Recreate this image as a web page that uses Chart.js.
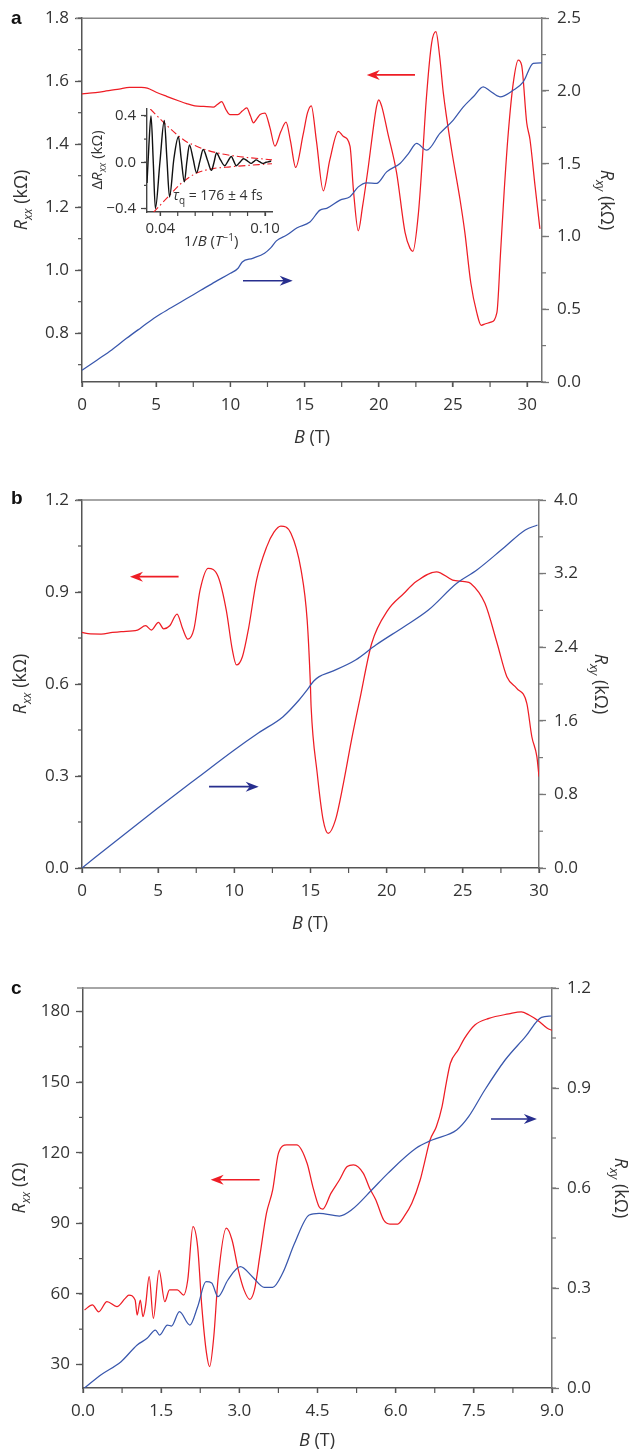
<!DOCTYPE html>
<html>
<head>
<meta charset="utf-8">
<script src="https://cdn.jsdelivr.net/npm/chart.js@4.4.1/dist/chart.umd.min.js"></script>
<style>
  html, body { margin: 0; padding: 0; background: #fff; }
  #wrap { position: relative; width: 633px; height: 1451px; }
  canvas { position: absolute; left: 0; }
</style>
</head>
<body>
<div id="wrap">
  <canvas id="ca" width="633" height="460" style="top:0px"></canvas>
  <canvas id="cins" width="210" height="155" style="left:80px;top:95px"></canvas>
  <canvas id="cb" width="633" height="490" style="top:460px"></canvas>
  <canvas id="cc" width="633" height="501" style="top:950px"></canvas>
</div>
<script>
// ---- panel a ----
const aRxxB = [0, 0.5, 1.5, 2.5, 3.2, 4.0, 4.4, 5.0, 5.7, 6.5, 7.05, 7.6, 8.2, 8.85, 9.1, 9.41, 9.7, 9.97, 10.5, 10.8, 11.1, 11.35, 11.55, 11.8, 12.0, 12.33, 12.67, 13.0, 13.4, 13.75, 14.05, 14.4, 14.9, 15.2, 15.45, 15.8, 16.26, 16.7, 17.27, 17.6, 18.06, 18.3, 18.62, 18.9, 19.3, 19.6, 19.85, 20.0, 20.2, 20.6, 21.2, 21.77, 22.1, 22.3, 22.67, 22.95, 23.2, 23.56, 23.85, 24.1, 24.35, 24.9, 25.47, 25.8, 26.2, 26.6, 26.9, 27.2, 27.55, 27.96, 28.2, 28.45, 28.73, 29.06, 29.4, 29.63, 29.97, 30.19, 30.53, 30.86];
const aRxx = [1.56, 1.562, 1.568, 1.575, 1.58, 1.58, 1.578, 1.565, 1.552, 1.538, 1.529, 1.522, 1.52, 1.518, 1.525, 1.535, 1.51, 1.494, 1.494, 1.505, 1.515, 1.49, 1.468, 1.482, 1.494, 1.499, 1.452, 1.394, 1.44, 1.47, 1.41, 1.326, 1.43, 1.5, 1.522, 1.41, 1.252, 1.35, 1.441, 1.425, 1.394, 1.25, 1.125, 1.2, 1.33, 1.44, 1.52, 1.541, 1.52, 1.437, 1.31, 1.12, 1.07, 1.06, 1.18, 1.36, 1.541, 1.72, 1.757, 1.68, 1.563, 1.384, 1.226, 1.12, 0.96, 0.866, 0.825, 0.83, 0.835, 0.865, 1.05, 1.25, 1.437, 1.593, 1.667, 1.65, 1.468, 1.415, 1.268, 1.131];
const aRxyB = [0, 1, 2, 3, 4, 5, 6, 7, 8, 9, 10, 10.5, 10.8, 11.5, 12.3, 12.7, 13.1, 13.8, 14.5, 15.36, 16.04, 16.49, 17.39, 18.06, 18.62, 19.18, 19.86, 20.53, 21.43, 22.0, 22.55, 23.23, 24.12, 25.02, 25.7, 26.37, 27.04, 27.5, 28.17, 29.06, 29.74, 30.41, 30.98];
const aRxy = [0.08, 0.15, 0.22, 0.3, 0.375, 0.449, 0.51, 0.57, 0.63, 0.69, 0.747, 0.78, 0.825, 0.85, 0.885, 0.92, 0.97, 1.01, 1.06, 1.10, 1.181, 1.193, 1.25, 1.273, 1.341, 1.369, 1.365, 1.444, 1.502, 1.57, 1.639, 1.593, 1.708, 1.8, 1.891, 1.96, 2.028, 2.0, 1.96, 2.005, 2.063, 2.189, 2.193];
const aXTicks = [0, 5, 10, 15, 20, 25, 30];
const aLeftTicks = [0.8, 1.0, 1.2, 1.4, 1.6, 1.8];
const aRightTicks = [0, 0.5, 1.0, 1.5, 2.0, 2.5];

// ---- inset of panel a ----
const insX = [0.0324, 0.0335, 0.0347, 0.036, 0.0372, 0.0398, 0.0423, 0.0438, 0.0453, 0.0478, 0.0504, 0.052, 0.0538, 0.0552, 0.0567, 0.0588, 0.0608, 0.0627, 0.0646, 0.067, 0.0693, 0.0708, 0.0722, 0.0745, 0.0769, 0.0788, 0.0807, 0.0821, 0.0835, 0.0856, 0.0877, 0.09, 0.0921, 0.0935, 0.0949, 0.0968, 0.0987, 0.1006, 0.1025, 0.1035];
const insY = [-0.18, 0.15, 0.40, 0.0, -0.40, 0.0, 0.36, 0.03, -0.30, 0.03, 0.22, 0.03, -0.17, 0.0, 0.15, 0.03, -0.09, 0.01, 0.11, 0.02, -0.07, 0.0, 0.08, 0.02, -0.03, 0.01, 0.05, 0.01, -0.03, 0.0, 0.03, 0.01, -0.01, 0.005, 0.02, 0.005, -0.01, 0.0, 0.006, 0.01];
const envUpX = [0.0343, 0.0438, 0.0552, 0.059, 0.0665, 0.08, 0.1045];
const envUp = [0.46, 0.317, 0.175, 0.15, 0.105, 0.06, 0.02];
const envLoX = [0.036, 0.0466, 0.0514, 0.0608, 0.0703, 0.08, 0.1045];
const envLo = [-0.435, -0.265, -0.19, -0.094, -0.055, -0.04, -0.012];
const insXTicks = [0.04, 0.10];
const insYTicks = [-0.4, 0.0, 0.4];

// ---- panel b ----
const bRxxB = [0, 0.4, 1.25, 2.0, 2.57, 3.64, 4.17, 4.56, 5.02, 5.36, 5.76, 6.24, 6.61, 6.95, 7.35, 7.75, 8.28, 8.94, 9.47, 9.87, 10.14, 10.53, 10.93, 11.46, 12.13, 12.6, 13.05, 13.72, 14.38, 14.78, 14.99, 15.04, 15.44, 15.83, 16.16, 16.64, 17.16, 17.69, 18.23, 19.02, 20.08, 21.14, 21.94, 23.27, 24.33, 25.12, 25.52, 26.45, 27.25, 27.89, 28.54, 29.2, 29.53, 29.86, 30];
const bRxx = [0.768, 0.764, 0.763, 0.768, 0.771, 0.776, 0.79, 0.776, 0.801, 0.78, 0.79, 0.828, 0.78, 0.746, 0.78, 0.906, 0.977, 0.95, 0.841, 0.711, 0.662, 0.689, 0.78, 0.939, 1.048, 1.095, 1.115, 1.091, 0.972, 0.809, 0.602, 0.526, 0.309, 0.157, 0.113, 0.157, 0.276, 0.417, 0.548, 0.733, 0.841, 0.896, 0.934, 0.966, 0.939, 0.934, 0.928, 0.863, 0.733, 0.624, 0.586, 0.537, 0.428, 0.363, 0.298];
const bRxyB = [0, 2.5, 4.96, 7.5, 10, 11.6, 13.2, 14.25, 14.78, 15.2, 15.57, 16.37, 17.96, 19.29, 21.14, 22.74, 24.6, 25.92, 27.77, 29.1, 29.9];
const bRxy = [0, 0.33, 0.649, 0.97, 1.283, 1.47, 1.645, 1.826, 1.935, 2.03, 2.08, 2.134, 2.261, 2.424, 2.623, 2.804, 3.095, 3.239, 3.492, 3.674, 3.728];
const bXTicks = [0, 5, 10, 15, 20, 25, 30];
const bLeftTicks = [0.0, 0.3, 0.6, 0.9, 1.2];
const bRightTicks = [0.0, 0.8, 1.6, 2.4, 3.2, 4.0];

// ---- panel c ----
const cRxxB = [0.03, 0.18, 0.3, 0.46, 0.65, 0.81, 0.88, 1.0, 1.04, 1.1, 1.15, 1.2, 1.27, 1.35, 1.46, 1.57, 1.66, 1.81, 1.93, 2.01, 2.11, 2.2, 2.28, 2.37, 2.43, 2.51, 2.59, 2.75, 2.86, 2.98, 3.09, 3.2, 3.29, 3.4, 3.52, 3.64, 3.75, 3.91, 4.1, 4.3, 4.41, 4.53, 4.6, 4.76, 4.92, 5.07, 5.19, 5.38, 5.5, 5.62, 5.77, 5.89, 6.04, 6.16, 6.31, 6.47, 6.55, 6.66, 6.78, 6.89, 6.97, 7.05, 7.2, 7.32, 7.52, 7.79, 8.17, 8.41, 8.56, 8.76, 8.91, 9.0];
const cRxx = [53.2, 55.3, 52.4, 56.7, 54.6, 58.1, 59.5, 57.4, 51, 57.4, 50.3, 55, 67.3, 49.6, 70, 56.7, 61.7, 61.7, 59.5, 65.9, 88.6, 80, 54.6, 34.8, 29.1, 41.9, 65.9, 87.9, 82.9, 70.2, 61.7, 57.7, 61.7, 77.1, 94.2, 104.2, 119.7, 123.3, 123.3, 115.5, 105.6, 97, 96, 102.8, 108.4, 114.1, 114.8, 111.2, 104.9, 99.9, 91.4, 89.7, 89.7, 92.8, 98.5, 108.4, 115.5, 125.4, 131, 139.6, 149.5, 158, 163.7, 168.6, 174.3, 177.1, 179, 179.9, 178.5, 175.7, 172.9, 172];
const cRxyB = [0.03, 0.34, 0.73, 1.04, 1.23, 1.39, 1.47, 1.62, 1.7, 1.85, 2.05, 2.2, 2.36, 2.47, 2.59, 2.78, 3.02, 3.25, 3.48, 3.64, 3.83, 4.06, 4.34, 4.53, 4.92, 5.15, 5.54, 5.85, 6.39, 6.7, 7.17, 7.4, 7.71, 8.1, 8.49, 8.8, 8.99];
const cRxy = [0, 0.039, 0.079, 0.129, 0.149, 0.174, 0.159, 0.189, 0.186, 0.229, 0.189, 0.244, 0.319, 0.315, 0.274, 0.324, 0.364, 0.334, 0.302, 0.302, 0.344, 0.434, 0.519, 0.524, 0.516, 0.534, 0.594, 0.644, 0.719, 0.744, 0.774, 0.814, 0.894, 0.984, 1.054, 1.112, 1.116];
const cXTicks = [0, 1.5, 3.0, 4.5, 6.0, 7.5, 9.0];
const cLeftTicks = [30, 60, 90, 120, 150, 180];
const cRightTicks = [0.0, 0.3, 0.6, 0.9, 1.2];

const RED = '#ee1d25';
const BLUE = '#3957ad';
const NAVY = '#272e8e';
const AXIS = '#555';

Chart.defaults.font.family = "'Open Sans', sans-serif";
Chart.defaults.color = '#333';

function pts(xs, ys) {
  return xs.map((x, i) => ({ x: x, y: ys[i] }));
}

function fmt(v, dec) {
  const s = Math.abs(v).toFixed(dec);
  return (v < -1e-9 ? '\u2212' : '') + s;
}

// draws a piece of text made of italic / subscript / superscript runs
function richText(ctx, parts, x, y, rot, align, size, color) {
  ctx.save();
  ctx.translate(x, y);
  ctx.rotate(rot || 0);
  ctx.fillStyle = color || '#333';
  ctx.textBaseline = 'alphabetic';
  const fontOf = p => (p.italic ? 'italic ' : '') + (p.bold ? 'bold ' : '') +
    Math.round((p.sub || p.sup) ? size * 0.68 : size) + 'px ' + (p.fam || "'Open Sans', sans-serif");
  let w = 0;
  parts.forEach(p => { ctx.font = fontOf(p); w += ctx.measureText(p.t).width; });
  let cx = align === 'left' ? 0 : (align === 'right' ? -w : -w / 2);
  parts.forEach(p => {
    ctx.font = fontOf(p);
    let dy = size * 0.36;
    if (p.sub) dy += size * 0.25;
    if (p.sup) dy -= size * 0.38;
    ctx.fillText(p.t, cx, dy);
    cx += ctx.measureText(p.t).width;
  });
  ctx.restore();
}

function arrow(ctx, x1, x2, y, color) {
  const d = Math.sign(x2 - x1);
  ctx.strokeStyle = color;
  ctx.fillStyle = color;
  ctx.lineWidth = 1.6;
  ctx.beginPath();
  ctx.moveTo(x1, y);
  ctx.lineTo(x2 - d * 8, y);
  ctx.stroke();
  ctx.beginPath();
  ctx.moveTo(x2, y);
  ctx.lineTo(x2 - d * 13, y - 5);
  ctx.lineTo(x2 - d * 9, y);
  ctx.lineTo(x2 - d * 13, y + 5);
  ctx.closePath();
  ctx.fill();
}

const deco = {
  id: 'deco',
  afterDraw(chart, args, o) {
    const ctx = chart.ctx;
    const a = chart.chartArea;
    ctx.save();
    if (o.topLine) {
      ctx.strokeStyle = '#888';
      ctx.lineWidth = 1.5;
      ctx.beginPath();
      ctx.moveTo(a.left - 6, a.top);
      ctx.lineTo(a.right, a.top);
      ctx.stroke();
    }
    (o.minor || []).forEach(m => {
      const s = chart.scales[m.id];
      ctx.strokeStyle = m.color || AXIS;
      ctx.lineWidth = 1.2;
      const k0 = Math.ceil(s.min / m.step - 1e-6);
      const k1 = Math.floor(s.max / m.step + 1e-6);
      for (let k = k0; k <= k1; k++) {
        const p = s.getPixelForValue(k * m.step);
        ctx.beginPath();
        if (s.axis === 'x') { ctx.moveTo(p, a.bottom); ctx.lineTo(p, a.bottom + m.len); }
        else if (s.position === 'left') { ctx.moveTo(a.left, p); ctx.lineTo(a.left - m.len, p); }
        else { ctx.moveTo(a.right, p); ctx.lineTo(a.right + m.len, p); }
        ctx.stroke();
      }
    });
    (o.arrows || []).forEach(r => {
      const sx = chart.scales.x, sy = chart.scales[r.axis];
      arrow(ctx, sx.getPixelForValue(r.x1), sx.getPixelForValue(r.x2), sy.getPixelForValue(r.y), r.color);
    });
    (o.texts || []).forEach(t => richText(ctx, t.parts, t.x, t.y, t.rot, t.align, t.size, t.color));
    ctx.restore();
  }
};

function axisY(pos, min, max, ticks, dec, width, color) {
  return {
    type: 'linear', position: pos, min: min, max: max,
    afterBuildTicks: s => { s.ticks = ticks.map(v => ({ value: v })); },
    afterFit: s => { s.width = width; },
    ticks: { callback: v => fmt(v, dec), padding: pos === 'left' ? 6 : 8, font: { size: 17 }, autoSkip: false },
    grid: { display: true, drawOnChartArea: false, drawTicks: true, tickLength: 7, tickColor: color, tickWidth: 1.3 },
    border: { display: true, color: color, width: 1.5 }
  };
}

function axisX(min, max, ticks, dec, height) {
  return {
    type: 'linear', position: 'bottom', min: min, max: max,
    afterBuildTicks: s => { s.ticks = ticks.map(v => ({ value: v })); },
    afterFit: s => { s.height = height; },
    ticks: { callback: v => fmt(v, dec), padding: 8, font: { size: 17 }, autoSkip: false, maxRotation: 0 },
    grid: { display: true, drawOnChartArea: false, drawTicks: true, tickLength: 5, tickColor: AXIS, tickWidth: 1.3 },
    border: { display: true, color: AXIS, width: 1.5 }
  };
}

function line(data, color, axis) {
  return { data: data, borderColor: color, borderWidth: 1.25, pointRadius: 0, cubicInterpolationMode: 'monotone', yAxisID: axis, fill: false };
}

const RXX = [{ t: 'R', italic: true }, { t: 'xx', italic: true, sub: true }, { t: ' (k\u03A9)' }];
const RXY = [{ t: 'R', italic: true }, { t: 'xy', italic: true, sub: true }, { t: ' (k\u03A9)' }];
const BT = [{ t: 'B', italic: true }, { t: ' (T)' }];
const letter = s => [{ t: s, bold: true, fam: "'Liberation Sans', Arial, sans-serif" }];

function panel(id, o) {
  return new Chart(document.getElementById(id).getContext('2d'), {
    type: 'line',
    data: { datasets: [line(o.blue, BLUE, 'y2'), line(o.red, RED, 'y')] },
    options: {
      responsive: false, animation: false, events: [],
      layout: { padding: { top: o.top, left: 0, right: 0, bottom: 0 } },
      scales: {
        x: o.x,
        y: o.y,
        y2: o.y2
      },
      plugins: {
        legend: { display: false },
        tooltip: { enabled: false },
        deco: {
          topLine: true,
          minor: o.minor,
          arrows: o.arrows,
          texts: o.texts
        }
      }
    },
    plugins: [deco]
  });
}

panel('ca', {
  top: 18,
  red: pts(aRxxB, aRxx), blue: pts(aRxyB, aRxy),
  x: axisX(0, 31, aXTicks, 0, 78),
  y: axisY('left', 0.645, 1.8, aLeftTicks, 1, 82, AXIS),
  y2: axisY('right', 0, 2.5, aRightTicks, 1, 91, '#777'),
  minor: [{ id: 'x', step: 2.5, len: 5 }, { id: 'y', step: 0.1, len: 4 }, { id: 'y2', step: 0.25, len: 4, color: '#777' }],
  arrows: [{ x1: 22.44, x2: 19.19, y: 1.62, axis: 'y', color: RED }, { x1: 10.85, x2: 14.2, y: 0.696, axis: 'y2', color: NAVY }],
  texts: [
    { parts: letter('a'), x: 11, y: 17, align: 'left', size: 19, color: '#111' },
    { parts: RXX, x: 21, y: 200, rot: -Math.PI / 2, size: 18 },
    { parts: RXY, x: 607, y: 200, rot: Math.PI / 2, size: 18 },
    { parts: BT, x: 312, y: 437, size: 18 }
  ]
});

panel('cb', {
  top: 40,
  red: pts(bRxxB, bRxx), blue: pts(bRxyB, bRxy),
  x: axisX(0, 30, bXTicks, 0, 82),
  y: axisY('left', 0, 1.2, bLeftTicks, 1, 82, AXIS),
  y2: axisY('right', 0, 4.0, bRightTicks, 1, 94, '#777'),
  minor: [{ id: 'x', step: 2.5, len: 5 }, { id: 'y', step: 0.15, len: 4 }, { id: 'y2', step: 0.4, len: 4, color: '#777' }],
  arrows: [{ x1: 6.34, x2: 3.15, y: 0.95, axis: 'y', color: RED }, { x1: 8.34, x2: 11.6, y: 0.884, axis: 'y2', color: NAVY }],
  texts: [
    { parts: letter('b'), x: 11, y: 37, align: 'left', size: 19, color: '#111' },
    { parts: RXX, x: 20, y: 224, rot: -Math.PI / 2, size: 18 },
    { parts: RXY, x: 601, y: 224, rot: Math.PI / 2, size: 18 },
    { parts: BT, x: 310, y: 463, size: 18 }
  ]
});

panel('cc', {
  top: 38,
  red: pts(cRxxB, cRxx), blue: pts(cRxyB, cRxy),
  x: axisX(0, 9, cXTicks, 1, 63),
  y: axisY('left', 20, 190, cLeftTicks, 0, 83, AXIS),
  y2: axisY('right', 0, 1.2, cRightTicks, 1, 81, '#777'),
  minor: [{ id: 'x', step: 0.75, len: 5 }, { id: 'y', step: 15, len: 4 }, { id: 'y2', step: 0.15, len: 4, color: '#777' }],
  arrows: [{ x1: 3.39, x2: 2.45, y: 108.5, axis: 'y', color: RED }, { x1: 7.83, x2: 8.71, y: 0.807, axis: 'y2', color: NAVY }],
  texts: [
    { parts: letter('c'), x: 11, y: 37, align: 'left', size: 19, color: '#111' },
    { parts: [{ t: 'R', italic: true }, { t: 'xx', italic: true, sub: true }, { t: ' (\u03A9)' }], x: 19, y: 238, rot: -Math.PI / 2, size: 18 },
    { parts: RXY, x: 621, y: 238, rot: Math.PI / 2, size: 18 },
    { parts: BT, x: 317, y: 490, size: 18 }
  ]
});

// inset: oscillating part against 1/B with its decay envelope
new Chart(document.getElementById('cins').getContext('2d'), {
  type: 'line',
  data: {
    datasets: [
      { data: pts(insX, insY), borderColor: '#111', borderWidth: 1.4, pointRadius: 0, cubicInterpolationMode: 'monotone', fill: false },
      { data: pts(envUpX, envUp), borderColor: RED, borderWidth: 1.1, borderDash: [7, 3, 1.5, 3], pointRadius: 0, cubicInterpolationMode: 'monotone', fill: false },
      { data: pts(envLoX, envLo), borderColor: RED, borderWidth: 1.1, borderDash: [7, 3, 1.5, 3], pointRadius: 0, cubicInterpolationMode: 'monotone', fill: false }
    ]
  },
  options: {
    responsive: false, animation: false, events: [],
    layout: { padding: { top: 12, left: 0, right: 18, bottom: 0 } },
    scales: {
      x: {
        type: 'linear', min: 0.0324, max: 0.104,
        afterBuildTicks: s => { s.ticks = insXTicks.map(v => ({ value: v })); },
        afterFit: s => { s.height = 38; },
        ticks: { callback: v => fmt(v, 2), padding: 4, font: { size: 15 }, autoSkip: false, maxRotation: 0 },
        grid: { display: true, drawOnChartArea: false, tickLength: 4, tickColor: '#444', tickWidth: 1.2 },
        border: { display: true, color: '#444', width: 1.4 }
      },
      y: {
        type: 'linear', min: -0.43, max: 0.46,
        afterBuildTicks: s => { s.ticks = insYTicks.map(v => ({ value: v })); },
        afterFit: s => { s.width = 67; },
        ticks: { callback: v => fmt(v, 1), padding: 5, font: { size: 15 }, autoSkip: false },
        grid: { display: true, drawOnChartArea: false, tickLength: 6, tickColor: '#444', tickWidth: 1.2 },
        border: { display: true, color: '#444', width: 1.4 }
      }
    },
    plugins: {
      legend: { display: false },
      tooltip: { enabled: false },
      deco: {
        minor: [{ id: 'x', step: 0.01, len: 4, color: '#444' }, { id: 'y', step: 0.2, len: 3, color: '#444' }],
        texts: [
          { parts: [{ t: '\u0394' }, { t: 'R', italic: true }, { t: 'xx', italic: true, sub: true }, { t: ' (k\u03A9)' }], x: 17, y: 65, rot: -Math.PI / 2, size: 15 },
          { parts: [{ t: '1/' }, { t: 'B', italic: true }, { t: ' (' }, { t: 'T', italic: true }, { t: '\u22121', sup: true }, { t: ')' }], x: 131, y: 146, size: 15 },
          { parts: [{ t: '\u03C4', italic: true }, { t: 'q', sub: true }, { t: ' = 176 \u00B1 4 fs' }], x: 93, y: 100, align: 'left', size: 14 }
        ]
      }
    }
  },
  plugins: [deco]
});
</script>
</body>
</html>
